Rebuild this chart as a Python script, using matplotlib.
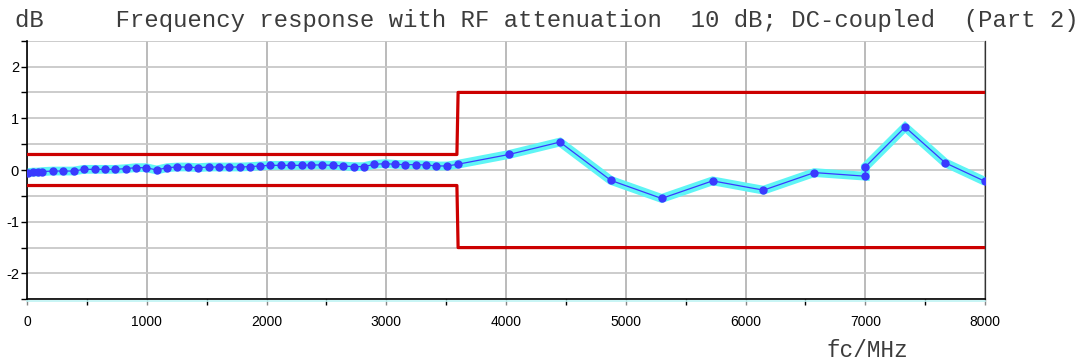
import matplotlib
matplotlib.use("Agg")
import matplotlib.pyplot as plt
import matplotlib.transforms as mtransforms
from matplotlib.ticker import MultipleLocator

plt.rcParams["axes.unicode_minus"] = False

# Measured frequency response (part 2)
freq_mhz = [10, 50, 90, 127, 214, 301, 389, 476, 565, 652, 738, 824, 907, 994,
            1083, 1170, 1253, 1342, 1428, 1517, 1604, 1690, 1776, 1860, 1946,
            2033, 2122, 2208, 2294, 2375, 2464, 2553, 2640, 2728, 2812, 2901,
            2990, 3077, 3160, 3246, 3333, 3419, 3508, 3595,
            4025, 4450, 4875, 5300, 5725, 6150, 6575, 7000, 7000, 7333, 7667, 8000]
level_db = [-0.05, -0.04, -0.04, -0.03, -0.02, -0.02, -0.02, 0.013, 0.013, 0.013,
            0.013, 0.026, 0.045, 0.045, 0.0, 0.045, 0.058, 0.058, 0.045, 0.058,
            0.058, 0.058, 0.058, 0.065, 0.078, 0.09, 0.09, 0.09, 0.09, 0.097,
            0.097, 0.09, 0.078, 0.065, 0.065, 0.11, 0.123, 0.11, 0.103, 0.103,
            0.097, 0.078, 0.078, 0.11,
            0.30, 0.54, -0.20, -0.55, -0.21, -0.39, -0.05, -0.12, 0.06, 0.83, 0.14, -0.22]

# Tolerance limits
limit_freq = [0, 3590, 3600, 8000]
limit_upper = [0.3, 0.3, 1.5, 1.5]
limit_lower = [-0.3, -0.3, -1.5, -1.5]

x_ticks = [0, 1000, 2000, 3000, 4000, 5000, 6000, 7000, 8000]
y_ticks = [-2, -1, 0, 1, 2]

W, H = 1084, 364
fig = plt.figure(figsize=(W / 100, H / 100), dpi=100)
ax = fig.add_axes([27 / W, (H - 299.3) / H, 958 / W, 258.6 / H])

ax.set_xlim(0, 8000)
ax.set_ylim(-2.5, 2.5)

# grid
ax.set_axisbelow(True)
ax.set_xticks(x_ticks)
ax.xaxis.set_minor_locator(MultipleLocator(500))
ax.set_yticks(y_ticks)
ax.yaxis.set_minor_locator(MultipleLocator(0.5))
ax.grid(axis="x", which="major", color="#a8a8a8", lw=1.1)
ax.grid(axis="y", which="both", color="#c8c8c8", lw=1.3)

# limit lines
ax.plot(limit_freq, limit_upper, color="#cc0000", lw=2.3, zorder=3)
ax.plot(limit_freq, limit_lower, color="#cc0000", lw=2.3, zorder=3)

# response trace
ax.plot(freq_mhz, level_db, color="#5ff5f5", lw=6.3, solid_capstyle="butt",
        solid_joinstyle="miter", zorder=4)
ax.plot(freq_mhz, level_db, color="#3a3aff", lw=0.9, marker="o", ms=5,
        mec="#3a3aff", mfc="#3a3aff", zorder=5)

# faint trace shadow along the bottom border
shift = mtransforms.offset_copy(ax.transData, fig=fig, x=0, y=-1.5, units="points")
ax.plot([0, 8000], [-2.5, -2.5], color="#bff4f4", lw=1.2, transform=shift,
        clip_on=False, zorder=1)

# spines
ax.spines["top"].set_visible(False)
ax.spines["left"].set_color("black")
ax.spines["left"].set_linewidth(1.2)
ax.spines["bottom"].set_color("black")
ax.spines["bottom"].set_linewidth(1.2)
ax.spines["right"].set_color("#333333")
ax.spines["right"].set_linewidth(0.9)

ax.tick_params(axis="y", which="both", direction="out", length=4.2, width=1,
               pad=1.5, labelsize=10.5)
ax.tick_params(axis="x", which="both", direction="out", length=4.2, width=1,
               pad=7, labelsize=10)
ax.tick_params(axis="x", which="major", color="#888888")
for lab in ax.get_xticklabels() + ax.get_yticklabels():
    lab.set_family("Liberation Sans")

fig.text(15 / W, (H - 27) / H,
         "dB     Frequency response with RF attenuation  10 dB; DC-coupled  (Part 2)",
         family="Liberation Mono", fontsize=17.2, ha="left", va="baseline",
         color="#3c3c3c")
fig.text(826.7 / W, (H - 357) / H, "fc/MHz", family="Liberation Mono",
         fontsize=16.3, ha="left", va="baseline", color="#3c3c3c")

fig.savefig("out.png", dpi=100)
